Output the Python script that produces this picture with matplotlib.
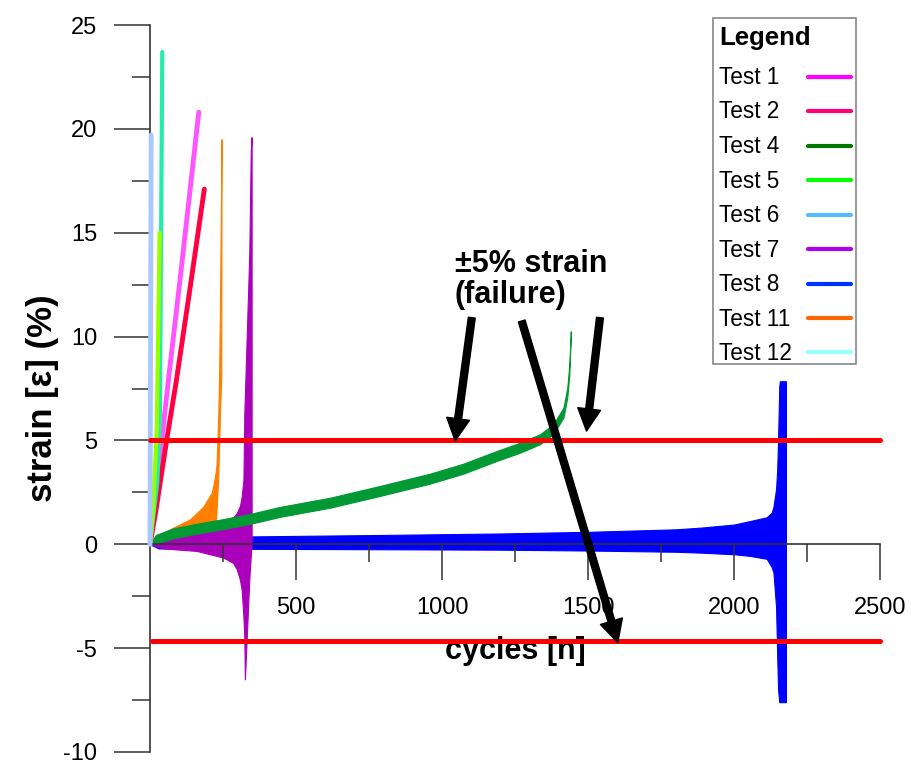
import numpy as np
import matplotlib
matplotlib.use("Agg")
import matplotlib.pyplot as plt
from matplotlib.lines import Line2D
from matplotlib.patches import Rectangle

plt.rcParams["font.family"] = ["Liberation Sans", "DejaVu Sans"]
plt.rcParams["axes.unicode_minus"] = False

# ---------------------------------------------------------------------------
# Data: strain vs cycles for each fatigue test
# ---------------------------------------------------------------------------

# tests that fail in a few cycles (single curves)
t1_cyc = [0, 63, 103, 167]
t1_eps = [0, 7.9, 12.75, 20.8]

t2_cyc = [0, 20, 57, 91, 140, 186]
t2_eps = [0, 1.6, 5.0, 7.94, 12.6, 17.1]

t5_cyc = [0, 10, 23, 33]
t5_eps = [0, 1.5, 5.5, 15.0]

t6_cyc = [0, 4]
t6_eps = [0, 19.7]

t12_cyc = [0, 25, 34, 42]
t12_eps = [0, 3.0, 6.3, 23.7]

# cyclic tests: max / min strain per cycle
t4_cyc = [0, 20, 79, 160, 250, 342, 445, 616, 788, 959, 1073, 1187, 1267,
          1336, 1381, 1416, 1429, 1436, 1441]
t4_max = [0, 0.45, 0.76, 0.99, 1.21, 1.46, 1.8, 2.24, 2.81, 3.4, 3.88, 4.49,
          4.89, 5.3, 5.78, 6.58, 7.54, 8.64, 10.25]
t4_min = [0, 0.05, 0.28, 0.51, 0.73, 0.98, 1.32, 1.76, 2.33, 2.92, 3.4, 4.01,
          4.41, 4.82, 5.3, 6.1, 7.06, 8.16, 10.0]

t7_cyc = [0, 46, 160, 251, 285, 297, 308, 314, 320, 323, 325, 331, 340, 345, 348]
t7_max = [0, 0.35, 0.75, 1.1, 1.3, 1.5, 1.85, 2.3, 3.1, 6.3, 7.2, 9.9, 14.0, 18.9, 19.6]
t7_min = [0, -0.2, -0.32, -0.64, -0.9, -1.2, -1.7, -2.2, -3.5, -4.5, -6.5, -4.6, -1.7, -0.6, 0]

t8_cyc = [0, 30, 350, 800, 1200, 1500, 1800, 1884, 2000, 2055, 2112, 2129,
          2135, 2144, 2148, 2151, 2155, 2157, 2178]
t8_max = [0, 0.2, 0.38, 0.45, 0.52, 0.6, 0.72, 0.8, 0.95, 1.12, 1.3, 1.52,
          1.8, 2.65, 3.6, 5.06, 7.6, 7.85, 7.85]
t8_min = [0, -0.2, -0.22, -0.24, -0.26, -0.3, -0.36, -0.4, -0.48, -0.56, -0.7,
          -1.1, -1.35, -3.0, -5.4, -7.0, -7.6, -7.6, -7.6]

t11_cyc = [0, 23, 79, 137, 182, 212, 222, 226, 228, 234, 235, 237, 240, 244, 245]
t11_max = [0, 0.38, 0.8, 1.2, 1.8, 2.5, 3.2, 3.6, 3.9, 6.3, 7.0, 8.5, 12.0, 18.0, 19.5]
t11_min = [0, 0.12, 0.3, 0.5, 0.7, 0.9, 1.05, 1.2, 1.6, 3.3, 3.9, 4.8, 6.5, 8.0, 19.2]

# failure limits (+/-5 % strain)
limit_hi = 5.0
limit_lo = -4.65

legend_labels = ["Test 1", "Test 2", "Test 4", "Test 5", "Test 6",
                 "Test 7", "Test 8", "Test 11", "Test 12"]
legend_colors = ["#ff00ff", "#ff0077", "#007700", "#00ff00", "#55bbff",
                 "#aa00ee", "#0033ff", "#ff6600", "#99ffff"]

W, H = 912, 764


def fx(px):
    return px / W


def fy(py):
    return 1 - py / H


# ---------------------------------------------------------------------------
# Plot
# ---------------------------------------------------------------------------
fig = plt.figure(figsize=(W / 100, H / 100), dpi=100)
ax = fig.add_axes([fx(150), fy(752), 730 / W, 727 / H])

# cyclic bands
ax.fill_between(t8_cyc, t8_min, t8_max, color="#0000ff", lw=0.8, zorder=1)
ax.fill_between(t7_cyc, t7_min, t7_max, color="#aa00bb", lw=0.8, zorder=1.1)
ax.fill_between(t11_cyc, t11_min, t11_max, color="#ff8000", lw=0.8, zorder=1.2)
ax.fill_between(t4_cyc, t4_min, t4_max, color="#009933", lw=0.8, zorder=1.3)

# single curves
kw = dict(lw=3.5, solid_capstyle="round", zorder=1.5)
ax.plot(t1_cyc, t1_eps, color="#ff55ff", **kw)
ax.plot(t2_cyc, t2_eps, color="#ff0040", **kw)
ax.plot(t12_cyc, t12_eps, color="#22eeaa", lw=3, solid_capstyle="round", zorder=1.5)
ax.plot(t5_cyc, t5_eps, color="#99ff00", lw=3, solid_capstyle="round", zorder=1.6)
ax.plot(t6_cyc, t6_eps, color="#a8c8ff", lw=3.5, solid_capstyle="round",
        zorder=2.7, clip_on=False)

# failure limits
ax.plot([0, 2500], [limit_hi, limit_hi], color="#ff0000", lw=3.6,
        solid_capstyle="round", zorder=3, clip_on=False)
ax.plot([7, 2500], [limit_lo, limit_lo], color="#ff0000", lw=3.6,
        solid_capstyle="round", zorder=3, clip_on=False)

# axes styling
ax.set_xlim(0, 2500)
ax.set_ylim(-10, 25)
ax.spines["top"].set_visible(False)
ax.spines["right"].set_visible(False)
ax.spines["bottom"].set_position(("data", 0))
for s in ("left", "bottom"):
    ax.spines[s].set_color("#333333")
    ax.spines[s].set_linewidth(1.2)

ax.set_xticks(np.arange(500, 2501, 500))
ax.set_xticks(np.arange(250, 2500, 500), minor=True)
ax.set_yticks(np.arange(-10, 26, 5))
ax.set_yticks(np.arange(-7.5, 25, 5), minor=True)
ax.tick_params(which="major", length=26, width=1.1, color="#333333",
               labelsize=17, direction="out", pad=12)
ax.tick_params(which="minor", length=13, width=1.1, color="#333333",
               direction="out")

ax.set_xlabel("cycles [n]", fontsize=22, fontweight="bold")
ax.xaxis.set_label_coords(0.5, 0.16)
ax.set_ylabel("strain [ε] (%)", fontsize=25, fontweight="bold")
ax.yaxis.set_label_coords(-0.125, 0.487)

# failure annotation
ax.text(1043, 12.75, "±5% strain\n(failure)", fontsize=22, fontweight="bold",
        ha="left", va="center", linespacing=1.05, zorder=4)
arrow = dict(facecolor="black", edgecolor="black", width=5, headwidth=16.5,
             headlength=16, shrink=0)
ax.annotate("", xy=(1045, 4.98), xytext=(1102, 10.91), arrowprops=arrow, zorder=4)
ax.annotate("", xy=(1495, 5.45), xytext=(1541, 10.91), arrowprops=arrow, zorder=4)
ax.annotate("", xy=(1602, -4.73), xytext=(1273, 10.75), arrowprops=arrow, zorder=4)

# legend box: title, labels on the left, line samples on the right
fig.add_artist(Rectangle((fx(713), fy(364)), 143 / W, 346 / H,
                         transform=fig.transFigure, facecolor="white",
                         edgecolor="#888888", lw=1.2, zorder=5))
fig.text(fx(719), fy(45), "Legend", fontsize=18.5, fontweight="bold",
         ha="left", va="baseline", zorder=6)
for i, (lab, col) in enumerate(zip(legend_labels, legend_colors)):
    base = 84 + 34.5 * i
    fig.text(fx(719), fy(base), lab, fontsize=16.3, ha="left", va="baseline",
             zorder=6)
    fig.add_artist(Line2D([fx(808), fx(851)], [fy(base - 7.5)] * 2,
                          transform=fig.transFigure, color=col, lw=3,
                          solid_capstyle="round", zorder=6))

fig.savefig("out.png", dpi=100, facecolor="white")
